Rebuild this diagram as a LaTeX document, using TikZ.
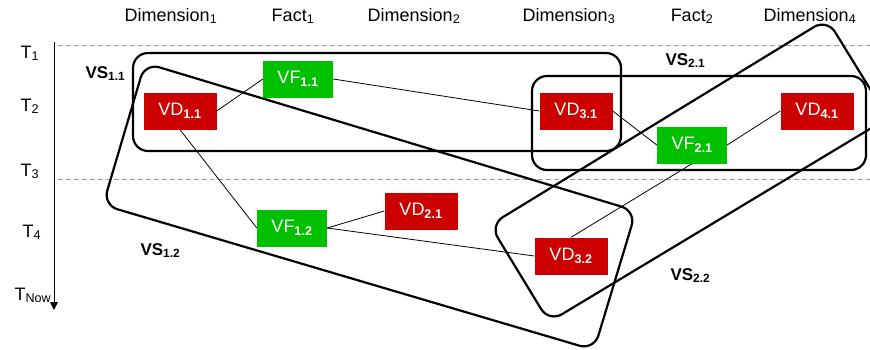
\documentclass[tikz,border=0pt]{standalone}
\usepackage{fontspec}
\setmainfont{Liberation Sans}
\usetikzlibrary{arrows.meta}

\definecolor{dimred}{RGB}{204,0,0}
\definecolor{factgreen}{RGB}{0,192,0}

\begin{document}
\begin{tikzpicture}[
    x=1pt, y=-1pt,
    every node/.style={font=\fontsize{18}{21}\selectfont},
    dim/.style={rectangle, fill=dimred, text=white, minimum width=73pt, minimum height=37pt, inner sep=0pt},
    fct/.style={rectangle, fill=factgreen, text=white, minimum width=70pt, minimum height=37pt, inner sep=0pt},
    link/.style={draw, line width=0.8pt},
    vset/.style={draw, line width=2.2pt, rounded corners=15pt},
    setlabel/.style={anchor=base west, font=\fontsize{17}{20}\selectfont\bfseries},
    period/.style={draw=gray!80, line width=0.8pt, dash pattern=on 5pt off 3pt},
    tlabel/.style={anchor=base west},
    header/.style={anchor=base}
]
\useasboundingbox (0,0) rectangle (870,349);
\clip (0,0) rectangle (870,349);

% Headers
\node[header] (h1) at (171,21) {Dimension\textsubscript{1}};
\node[header] (h2) at (293,21) {Fact\textsubscript{1}};
\node[header] (h3) at (414,21) {Dimension\textsubscript{2}};
\node[header] (h4) at (569,21) {Dimension\textsubscript{3}};
\node[header] (h5) at (692,21) {Fact\textsubscript{2}};
\node[header] (h6) at (810,21) {Dimension\textsubscript{4}};

% Time axis
\coordinate (top) at (54,42);
\coordinate (now) at (54,310);
\draw[line width=1pt, -{Triangle[length=8pt,width=8pt]}] (top) -- (now);
\node[tlabel] (t1) at (17,58) {T\textsubscript{1}};
\node[tlabel] (t2) at (17,111) {T\textsubscript{2}};
\node[tlabel] (t3) at (17,176) {T\textsubscript{3}};
\node[tlabel] (t4) at (19,237) {T\textsubscript{4}};
\node[tlabel] (tnow) at (11,300) {T\textsubscript{Now}};

% Periods
\coordinate (p1a) at (58,45);
\coordinate (p1b) at (870,45);
\coordinate (p3a) at (58,179);
\coordinate (p3b) at (870,179);
\draw[period] (p1a) -- (p1b);
\draw[period] (p3a) -- (p3b);

% Virtual sets
\draw[vset] (133,53) rectangle (621,151);
\draw[vset] (532,76) rectangle (866,170);
\draw[vset] (145,63) -- (636,211) -- (594,350) -- (103,205) -- cycle;
\draw[vset] (490,225) -- (549,322) -- (888,118) -- (827,19) -- cycle;

\node[setlabel] (vs11) at (82,78) {VS\textsubscript{1.1}};
\node[setlabel] (vs21) at (662,65) {VS\textsubscript{2.1}};
\node[setlabel] (vs12) at (137,255) {VS\textsubscript{1.2}};
\node[setlabel] (vs22) at (667,280) {VS\textsubscript{2.2}};

% Versions
\node[dim] (vd11) at (180,111) {VD\textsubscript{\bfseries 1.1}};
\node[fct] (vf11) at (298,79) {VF\textsubscript{\bfseries 1.1}};
\node[dim] (vd31) at (576,111) {VD\textsubscript{\bfseries 3.1}};
\node[fct] (vf21) at (692,145) {VF\textsubscript{\bfseries 2.1}};
\node[dim] (vd41) at (817,111) {VD\textsubscript{\bfseries 4.1}};
\node[fct] (vf12) at (292,228) {VF\textsubscript{\bfseries 1.2}};
\node[dim] (vd21) at (421,211) {VD\textsubscript{\bfseries 2.1}};
\node[dim] (vd32) at (571,256) {VD\textsubscript{\bfseries 3.2}};

% Links
\draw[link] (vd11.east) -- (vf11.west);
\draw[link] (vf11.east) -- (vd31.west);
\draw[link] (vd11.south) -- (vf12.west);
\draw[link] (vf12.east) -- (vd21.west);
\draw[link] (vf12.east) -- (vd32.west);
\draw[link] (vd31.east) -- (vf21.west);
\draw[link] (vf21.east) -- (vd41.west);
\draw[link] (vf21.south) -- (vd32.north);
\end{tikzpicture}
\end{document}
